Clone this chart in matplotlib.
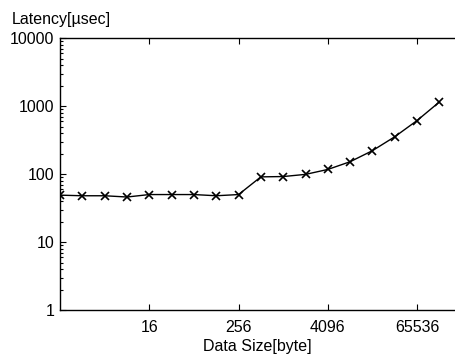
import matplotlib.pyplot as plt
from matplotlib.ticker import FixedLocator, NullFormatter, LogLocator

plt.rcParams["font.family"] = ["Liberation Sans", "DejaVu Sans"]

sizes = [2 ** k for k in range(18)]
latency = [49, 48, 48, 46, 50, 50, 50, 48, 50,
           91, 92, 99, 117, 152, 221, 354, 613, 1150]
xticks = [16, 256, 4096, 65536]
xticklabels = ["16", "256", "4096", "65536"]
yticks = [1, 10, 100, 1000, 10000]
yticklabels = ["1", "10", "100", "1000", "10000"]

fig = plt.figure(figsize=(4.55, 3.56), dpi=100)
ax = fig.add_axes([0.132, 0.129, 0.868, 0.764])

ax.plot(sizes, latency, color="black", linewidth=1.0,
        marker="x", markersize=6, markeredgewidth=1.2)

ax.set_xscale("log", base=2)
ax.set_yscale("log")
ax.set_xlim(1, 2 ** 17.7)
ax.set_ylim(1, 10000)

ax.xaxis.set_major_locator(FixedLocator(xticks))
ax.set_xticklabels(xticklabels)
ax.xaxis.set_minor_locator(FixedLocator([]))
ax.yaxis.set_major_locator(FixedLocator(yticks))
ax.set_yticklabels(yticklabels)
ax.yaxis.set_minor_locator(LogLocator(base=10, subs=range(2, 10)))
ax.yaxis.set_minor_formatter(NullFormatter())

ax.tick_params(which="both", direction="in", top=True, right=False,
               labelsize=11.5, width=0.8)
ax.tick_params(axis="x", which="major", length=4, pad=7)
ax.tick_params(axis="y", which="major", length=4, pad=4)
ax.tick_params(which="minor", length=2)
ax.spines["right"].set_visible(False)
for s in ["left", "bottom", "top"]:
    ax.spines[s].set_linewidth(1.0)

ax.set_xlabel("Data Size[byte]", fontsize=11.5, labelpad=3)
fig.text(0.026, 0.925, "Latency[µsec]", fontsize=11.5, ha="left", va="bottom")

fig.savefig("out.png", dpi=100)
